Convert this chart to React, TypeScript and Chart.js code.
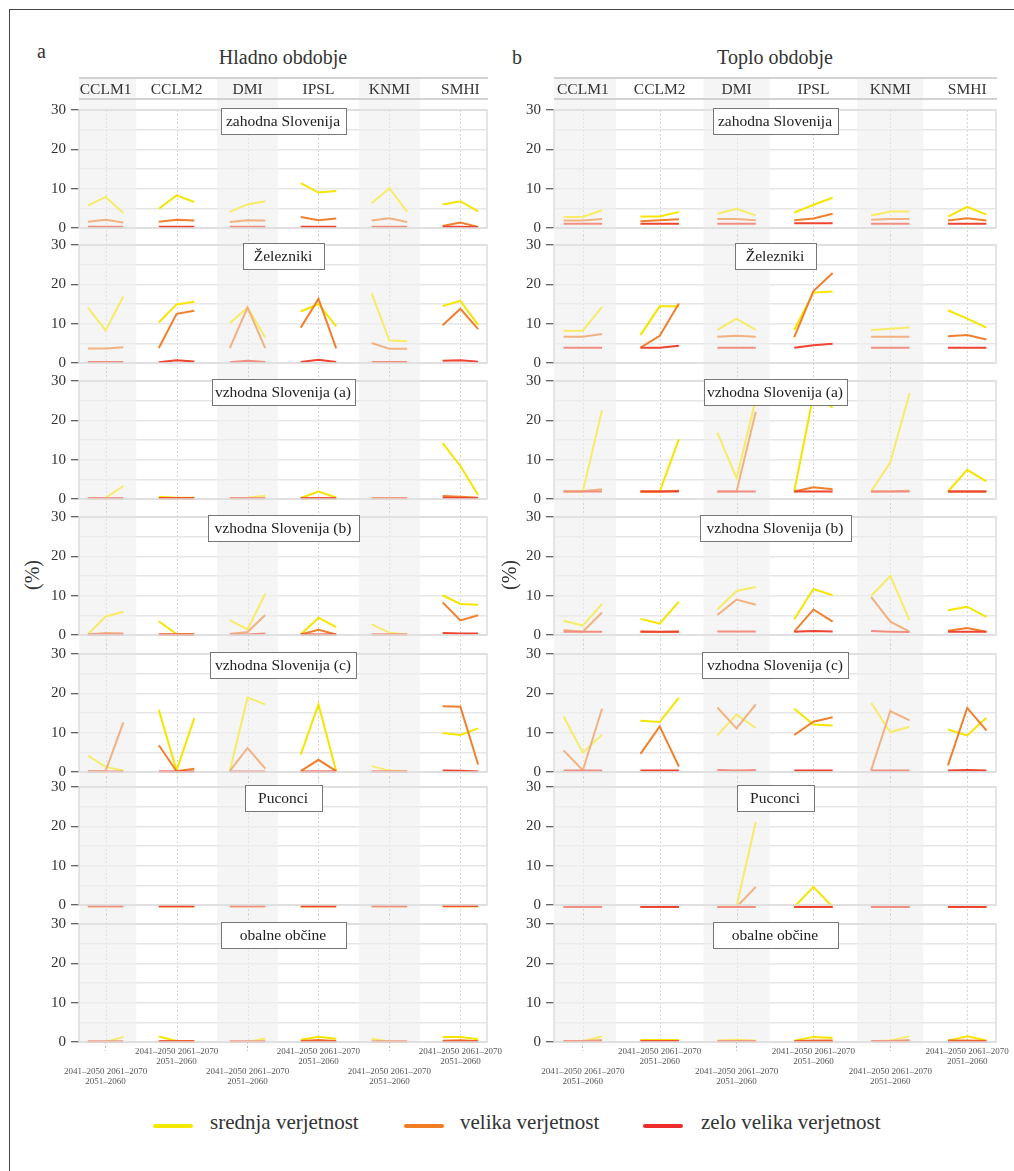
import React, { useEffect, useRef } from 'react';
import { Chart, registerables } from 'chart.js';

Chart.register(...registerables);

const FONT = '"Liberation Serif", "Times New Roman", serif';

// ---------- categories ----------
const models = ['CCLM1', 'CCLM2', 'DMI', 'IPSL', 'KNMI', 'SMHI'];
const periodLabels = ['2041–2050', '2051–2060', '2061–2070'];
const regionNames = [
  'zahodna Slovenija',
  'Železniki',
  'vzhodna Slovenija (a)',
  'vzhodna Slovenija (b)',
  'vzhodna Slovenija (c)',
  'Puconci',
  'obalne občine',
];
const seriesNames = ['srednja verjetnost', 'velika verjetnost', 'zelo velika verjetnost'];
const panelTitles = ['Hladno obdobje', 'Toplo obdobje'];
const panelLetters = ['a', 'b'];
const yAxisTitle = '(%)';

// ---------- values (%), per region: [srednja, velika, zelo velika], 6 models x 3 periods ----------
// Hladno obdobje
const hladnoZahodna = [
  [5.7, 7.9, 3.8, 4.9, 8.3, 6.6, 4.1, 6.0, 6.8, 11.4, 9.0, 9.4, 6.3, 10.1, 4.1, 6.0, 6.8, 4.2],
  [1.6, 2.1, 1.4, 1.6, 2.1, 1.9, 1.5, 2.0, 1.9, 2.8, 2.0, 2.4, 1.9, 2.5, 1.5, 0.5, 1.4, 0.25],
  [0.3, 0.3, 0.3, 0.3, 0.3, 0.3, 0.3, 0.3, 0.3, 0.3, 0.3, 0.3, 0.3, 0.3, 0.3, 0.3, 0.3, 0.2],
];
const hladnoZelezniki = [
  [14.1, 8.3, 16.9, 10.3, 14.9, 15.6, 10.1, 14.1, 6.5, 13.1, 15.0, 9.3, 17.7, 5.7, 5.5, 14.5, 15.8, 9.7],
  [3.7, 3.7, 4.0, 3.8, 12.5, 13.3, 3.8, 14.1, 3.8, 9.0, 16.3, 3.7, 5.1, 3.6, 3.6, 9.6, 13.8, 8.6],
  [0.25, 0.25, 0.25, 0.2, 0.7, 0.4, 0.2, 0.6, 0.25, 0.25, 0.85, 0.25, 0.25, 0.25, 0.25, 0.6, 0.7, 0.35],
];
const hladnoVzhodnaA = [
  [0.25, 0.3, 3.3, 0.6, 0.3, 0.3, 0.2, 0.3, 0.85, 0.25, 1.9, 0.4, 0.2, 0.2, 0.2, 14.2, 8.4, 1.0],
  [0.2, 0.2, 0.2, 0.2, 0.2, 0.2, 0.2, 0.2, 0.2, 0.2, 0.2, 0.2, 0.2, 0.2, 0.2, 0.75, 0.6, 0.3],
  [0.2, 0.2, 0.2, 0.2, 0.2, 0.2, 0.2, 0.2, 0.2, 0.2, 0.2, 0.2, 0.2, 0.2, 0.2, 0.3, 0.25, 0.2],
];
const hladnoVzhodnaB = [
  [0.15, 4.7, 5.9, 3.5, 0.25, 0.15, 3.8, 1.4, 10.5, 0.15, 4.4, 2.0, 2.7, 0.6, 0.15, 10.1, 7.9, 7.7],
  [0.15, 0.5, 0.4, 0.15, 0.15, 0.15, 0.25, 0.75, 5.1, 0.15, 1.3, 0.15, 0.15, 0.15, 0.15, 8.3, 3.7, 5.0],
  [0.15, 0.15, 0.15, 0.15, 0.15, 0.15, 0.15, 0.15, 0.35, 0.15, 0.15, 0.15, 0.15, 0.15, 0.15, 0.5, 0.4, 0.4],
];
const hladnoVzhodnaC = [
  [4.2, 1.3, 0.3, 15.8, 0.4, 13.7, 0.2, 18.9, 17.2, 4.4, 17.2, 0.2, 1.5, 0.35, 0.2, 9.9, 9.4, 11.1],
  [0.2, 0.2, 12.6, 6.8, 0.2, 0.8, 0.2, 6.1, 0.85, 0.2, 3.1, 0.2, 0.15, 0.15, 0.15, 16.7, 16.6, 1.9],
  [0.15, 0.15, 0.15, 0.15, 0.15, 0.15, 0.15, 0.15, 0.15, 0.15, 0.15, 0.15, 0.15, 0.15, 0.15, 0.35, 0.3, 0.1],
];
const hladnoPuconci = [
  [-0.3, -0.3, -0.3, -0.3, -0.3, -0.3, -0.3, -0.3, -0.3, -0.3, -0.3, -0.3, -0.3, -0.3, -0.3, -0.3, -0.3, -0.3],
  [-0.3, -0.3, -0.3, -0.3, -0.3, -0.3, -0.3, -0.3, -0.3, -0.3, -0.3, -0.3, -0.3, -0.3, -0.3, -0.3, -0.3, -0.3],
  [-0.3, -0.3, -0.3, -0.3, -0.3, -0.3, -0.3, -0.3, -0.3, -0.3, -0.3, -0.3, -0.3, -0.3, -0.3, -0.2, -0.2, -0.2],
];
const hladnoObalne = [
  [0.0, 0.0, 1.3, 1.4, 0.25, 0.1, 0.0, 0.0, 0.9, 0.6, 1.35, 0.85, 0.85, 0.1, 0.0, 1.25, 1.25, 0.7],
  [0.1, 0.1, 0.1, 0.1, 0.1, 0.1, 0.1, 0.1, 0.1, 0.25, 0.5, 0.25, 0.1, 0.1, 0.1, 0.3, 0.45, 0.2],
  [0.1, 0.1, 0.1, 0.2, 0.2, 0.2, 0.1, 0.1, 0.1, 0.1, 0.1, 0.1, 0.1, 0.1, 0.1, 0.1, 0.1, 0.1],
];

// Toplo obdobje
const toploZahodna = [
  [2.8, 2.8, 4.5, 2.9, 2.9, 4.1, 3.6, 4.9, 3.2, 3.9, 5.9, 7.7, 3.2, 4.2, 4.2, 2.9, 5.4, 3.4],
  [1.9, 1.9, 2.3, 1.7, 2.0, 2.2, 2.3, 2.3, 2.0, 2.0, 2.4, 3.6, 2.1, 2.3, 2.3, 1.9, 2.5, 1.9],
  [1.1, 1.1, 1.1, 1.1, 1.1, 1.1, 1.1, 1.1, 1.1, 1.2, 1.2, 1.2, 1.1, 1.1, 1.1, 1.1, 1.1, 1.1],
];
const toploZelezniki = [
  [8.2, 8.2, 14.3, 7.1, 14.4, 14.4, 8.4, 11.3, 8.4, 8.4, 17.9, 18.2, 8.4, 8.7, 9.0, 13.4, 11.3, 9.0],
  [6.7, 6.7, 7.4, 3.9, 6.9, 15.1, 6.7, 6.9, 6.7, 6.6, 18.3, 22.9, 6.7, 6.7, 6.7, 6.8, 7.1, 6.0],
  [3.9, 3.9, 3.9, 3.9, 3.9, 4.4, 3.9, 3.9, 3.9, 3.9, 4.5, 4.9, 3.9, 3.9, 3.9, 3.9, 3.9, 3.9],
];
const toploVzhodnaA = [
  [1.9, 1.9, 22.6, 1.9, 1.9, 15.2, 16.9, 5.3, 25.4, 1.9, 26.5, 23.2, 1.9, 9.3, 26.9, 1.9, 7.4, 4.5],
  [1.9, 2.0, 2.5, 1.9, 1.9, 2.1, 1.9, 1.9, 22.2, 1.9, 3.0, 2.5, 1.9, 1.9, 2.1, 1.9, 1.9, 1.9],
  [1.9, 1.9, 1.9, 1.9, 1.9, 1.9, 1.9, 1.9, 1.9, 1.9, 1.9, 1.9, 1.9, 1.9, 1.9, 1.9, 1.9, 1.9],
];
const toploVzhodnaB = [
  [3.6, 2.4, 7.9, 4.1, 2.9, 8.5, 6.5, 11.2, 12.2, 4.0, 11.7, 10.1, 9.9, 15.0, 3.8, 6.3, 7.2, 4.6],
  [1.3, 0.85, 5.7, 0.9, 0.75, 0.9, 5.1, 9.0, 7.7, 0.85, 6.5, 3.4, 9.7, 3.4, 0.85, 1.1, 1.8, 0.85],
  [0.85, 0.85, 0.85, 0.85, 0.85, 0.85, 0.9, 0.9, 0.9, 0.85, 1.0, 0.9, 1.0, 0.85, 0.75, 0.85, 0.85, 0.85],
];
const toploVzhodnaC = [
  [14.1, 4.9, 9.5, 13.0, 12.7, 18.9, 9.3, 14.6, 11.2, 16.1, 12.1, 11.8, 17.6, 10.1, 11.5, 10.8, 9.3, 13.8],
  [5.5, 0.4, 16.1, 4.6, 11.6, 1.4, 16.4, 11.1, 17.2, 9.4, 12.8, 13.9, 0.4, 15.5, 13.1, 1.7, 16.3, 10.6],
  [0.35, 0.35, 0.35, 0.35, 0.35, 0.35, 0.5, 0.35, 0.5, 0.35, 0.35, 0.35, 0.35, 0.35, 0.35, 0.35, 0.5, 0.35],
];
const toploPuconci = [
  [-0.5, -0.5, -0.5, -0.5, -0.5, -0.5, -0.3, -0.3, 21.1, -0.5, 4.6, -0.5, -0.5, -0.5, -0.5, -0.5, -0.5, -0.5],
  [-0.5, -0.5, -0.5, -0.5, -0.5, -0.5, -0.5, -0.5, 4.6, -0.5, -0.5, -0.5, -0.5, -0.5, -0.5, -0.5, -0.5, -0.5],
  [-0.5, -0.5, -0.5, -0.5, -0.5, -0.5, -0.5, -0.5, -0.5, -0.5, -0.5, -0.5, -0.5, -0.5, -0.5, -0.5, -0.5, -0.5],
];
const toploObalne = [
  [0.2, 0.2, 1.4, 0.5, 0.5, 0.5, 0.35, 0.6, 0.35, 0.35, 1.3, 1.0, 0.2, 0.35, 1.5, 0.35, 1.45, 0.4],
  [0.2, 0.25, 0.5, 0.25, 0.25, 0.25, 0.2, 0.2, 0.2, 0.25, 0.4, 0.35, 0.2, 0.25, 0.5, 0.35, 0.4, 0.25],
  [0.2, 0.2, 0.2, 0.2, 0.2, 0.2, 0.2, 0.2, 0.2, 0.15, 0.15, 0.15, 0.2, 0.2, 0.2, 0.15, 0.15, 0.15],
];

const hladnoRows = [hladnoZahodna, hladnoZelezniki, hladnoVzhodnaA, hladnoVzhodnaB, hladnoVzhodnaC, hladnoPuconci, hladnoObalne];
const toploRows = [toploZahodna, toploZelezniki, toploVzhodnaA, toploVzhodnaB, toploVzhodnaC, toploPuconci, toploObalne];

// ---------- styles / layout ----------
const SERIES_COLORS = ['#f6e500', '#f0802e', '#ee4430'];
const LEGEND_COLORS = ['#f4e900', '#f07d26', '#ee2c2c'];
const BAND_COLOR = '#f5f5f5';
const ROW_TOPS = [110, 245, 381, 517, 654, 787, 924];
const PLOT_H = 118;
const HEADER_TOP = 78;
const HEADER_BOTTOM = 99;
const X_LABEL_H = 52;
const LABEL_BOX_W = [125, 81, 143, 151, 146, 77, 125];
const X_MIN = 0.5;
const X_MAX = 23.5;
const BAND_INSET = 0.28;
const BAND_MODELS = [0, 2, 4];

type Panel = { left: number; width: number; axisW: number; padRight: number; rows: number[][][]; titleX: number; letterX: number; letterTop: number; pctX: number };
const PANELS: Panel[] = [
  { left: 0, width: 508, axisW: 79, padRight: 21, rows: hladnoRows, titleX: 283, letterX: 37, letterTop: 41, pctX: 32 },
  { left: 500, width: 514, axisW: 54, padRight: 18, rows: toploRows, titleX: 775, letterX: 512, letterTop: 47, pctX: 509 },
];

function buildPoints(values: number[]) {
  const pts: { x: number; y: number | null }[] = [];
  models.forEach((_, m) => {
    periodLabels.forEach((__, p) => {
      pts.push({ x: 4 * m + 1 + p, y: values[3 * m + p] });
    });
    pts.push({ x: 4 * m + 3.5, y: null });
  });
  return pts;
}

function makeDecor(first: boolean, last: boolean, headerTopPx: number, headerBottomPx: number, boxW: number, label: string) {
  return {
    id: 'decor',
    beforeDraw(chart: any) {
      const { ctx, chartArea: ca } = chart;
      const x = chart.scales.x;
      const top = first ? headerTopPx : 0;
      const bottom = last ? ca.bottom : chart.height;
      ctx.save();
      ctx.fillStyle = BAND_COLOR;
      BAND_MODELS.forEach((m) => {
        const l = Math.max(ca.left, x.getPixelForValue(4 * m + BAND_INSET));
        const r = Math.min(ca.right, x.getPixelForValue(4 * m + 4 - BAND_INSET));
        ctx.fillRect(l, top, r - l, bottom - top);
      });
      ctx.strokeStyle = '#d4d4d4';
      ctx.lineWidth = 1;
      ctx.setLineDash([2, 2]);
      const dTop = first ? ca.top : 0;
      models.forEach((_, m) => {
        const cx = Math.round(x.getPixelForValue(4 * m + 2)) + 0.5;
        ctx.beginPath();
        ctx.moveTo(cx, dTop);
        ctx.lineTo(cx, bottom);
        ctx.stroke();
      });
      ctx.restore();
    },
    afterDatasetsDraw(chart: any) {
      const { ctx, chartArea: ca } = chart;
      const x = chart.scales.x;
      ctx.save();
      ctx.fillStyle = 'rgba(245,245,245,0.42)';
      BAND_MODELS.forEach((m) => {
        const l = Math.max(ca.left, x.getPixelForValue(4 * m + BAND_INSET));
        const r = Math.min(ca.right, x.getPixelForValue(4 * m + 4 - BAND_INSET));
        ctx.fillRect(l, ca.top - 4, r - l, ca.bottom - ca.top + 8);
      });
      ctx.restore();
    },
    afterDraw(chart: any) {
      const { ctx, chartArea: ca } = chart;
      const x = chart.scales.x;
      ctx.save();
      ctx.strokeStyle = '#dcdcdc';
      ctx.lineWidth = 1.5;
      ctx.strokeRect(ca.left, ca.top, ca.right - ca.left, ca.bottom - ca.top);
      if (first) {
        ctx.strokeStyle = '#d2d2d2';
        ctx.lineWidth = 2;
        [headerTopPx, headerBottomPx].forEach((yy) => {
          ctx.beginPath();
          ctx.moveTo(ca.left, yy);
          ctx.lineTo(ca.right + 1, yy);
          ctx.stroke();
        });
        ctx.fillStyle = '#333';
        ctx.font = `15.5px ${FONT}`;
        ctx.textAlign = 'center';
        ctx.textBaseline = 'middle';
        models.forEach((name, m) => {
          ctx.fillText(name, x.getPixelForValue(4 * m + 2), (headerTopPx + headerBottomPx) / 2 + 1);
        });
      }
      const cx = (ca.left + ca.right) / 2;
      const bx = Math.round(cx - boxW / 2) + 0.5;
      const by = Math.round(ca.top - 2) + 0.5;
      ctx.fillStyle = '#fff';
      ctx.fillRect(bx, by, boxW, 26);
      ctx.strokeStyle = '#777';
      ctx.lineWidth = 1;
      ctx.strokeRect(bx, by, boxW, 26);
      ctx.fillStyle = '#222';
      ctx.font = `15.5px ${FONT}`;
      ctx.textAlign = 'center';
      ctx.textBaseline = 'middle';
      ctx.fillText(label, cx, by + 13.5);
      ctx.restore();
    },
  };
}

function RowChart({ panel, row }: { panel: Panel; row: number }) {
  const ref = useRef<HTMLCanvasElement | null>(null);
  const first = row === 0;
  const last = row === ROW_TOPS.length - 1;
  const canvasTop = first ? HEADER_TOP - 8 : ROW_TOPS[row] - 10;
  const padTop = ROW_TOPS[row] - canvasTop;
  const chartBottom = ROW_TOPS[row] + PLOT_H;
  const canvasBottom = last ? chartBottom + X_LABEL_H : ROW_TOPS[row + 1] - 10;
  const height = canvasBottom - canvasTop;
  const padBottom = last ? 0 : canvasBottom - chartBottom;

  useEffect(() => {
    if (!ref.current) return;
    const values = panel.rows[row];
    const datasets = seriesNames.map((name, s) => ({
      label: name,
      data: buildPoints(values[s]),
      borderColor: SERIES_COLORS[s],
      backgroundColor: SERIES_COLORS[s],
      borderWidth: 2,
      pointRadius: 0,
      tension: 0,
      spanGaps: false,
      clip: false as any,
      order: 3 - s,
    }));
    const chart = new Chart(ref.current, {
      type: 'line',
      data: { datasets },
      plugins: [makeDecor(first, last, HEADER_TOP - canvasTop, HEADER_BOTTOM - canvasTop, LABEL_BOX_W[row], regionNames[row])],
      options: {
        responsive: false,
        maintainAspectRatio: false,
        animation: false,
        devicePixelRatio: 1,
        events: [],
        layout: { padding: { top: padTop, bottom: padBottom, left: 0, right: panel.padRight } },
        plugins: { legend: { display: false }, tooltip: { enabled: false } },
        scales: {
          x: {
            type: 'linear',
            min: X_MIN,
            max: X_MAX,
            display: last,
            afterBuildTicks: (s: any) => {
              s.ticks = models.map((_, m) => ({ value: 4 * m + 2 }));
            },
            afterFit: (s: any) => {
              s.height = last ? X_LABEL_H : 0;
              s.paddingLeft = 0;
              s.paddingRight = 0;
            },
            grid: {
              drawOnChartArea: false,
              drawTicks: true,
              tickLength: 9,
              tickWidth: 1,
              tickBorderDash: [2, 2],
              tickColor: (c: any) => (c.index % 2 === 0 ? '#b5b5b5' : 'rgba(0,0,0,0)'),
            },
            border: { display: false },
            ticks: {
              autoSkip: false,
              maxRotation: 0,
              minRotation: 0,
              padding: -4,
              color: '#555',
              font: { family: FONT, size: 9, lineHeight: 1.1 },
              callback: (_v: any, i: number) => {
                const line1 = `${periodLabels[0]} ${periodLabels[2]}`;
                const line2 = periodLabels[1];
                return i % 2 === 0 ? ['', '', line1, line2] : [line1, line2];
              },
            },
          },
          y: {
            type: 'linear',
            min: 0,
            max: 30,
            afterFit: (s: any) => {
              s.width = panel.axisW;
              s.paddingTop = 0;
              s.paddingBottom = 0;
            },
            grid: {
              color: '#e6e6e6',
              lineWidth: 1.5,
              tickLength: 8,
              tickWidth: 1,
              tickColor: (c: any) => (c.tick && c.tick.value % 10 === 0 ? '#333' : 'rgba(0,0,0,0)'),
            },
            border: { display: false },
            ticks: {
              stepSize: 5,
              padding: 5,
              color: '#333',
              font: { family: FONT, size: 15, lineHeight: 1 },
              callback: (v: any) => (v % 10 === 0 ? String(v) : ''),
            },
          },
        },
      } as any,
    });
    return () => chart.destroy();
  }, []);

  return (
    <canvas
      ref={ref}
      width={panel.width}
      height={height}
      style={{ position: 'absolute', left: panel.left, top: canvasTop, width: panel.width, height }}
    />
  );
}

export default function App() {
  const text: React.CSSProperties = { position: 'absolute', fontFamily: FONT, color: '#333', whiteSpace: 'nowrap' };
  const legendLines = [153, 404, 643];
  const legendTexts = [210, 460, 701];
  return (
    <div style={{ position: 'absolute', left: 0, top: 0, width: 1014, height: 1171, overflow: 'hidden', background: '#fff' }}>
      <div style={{ position: 'absolute', left: 9, top: 9, width: 1005, height: 1162, borderLeft: '1px solid #444', borderTop: '1px solid #444' }} />
      {PANELS.map((panel, pi) => (
        <React.Fragment key={pi}>
          <div style={{ ...text, left: panel.letterX, top: panel.letterTop, fontSize: 20, lineHeight: '20px' }}>{panelLetters[pi]}</div>
          <div style={{ ...text, left: panel.titleX - 150, top: 47, width: 300, textAlign: 'center', fontSize: 20, lineHeight: '20px' }}>
            {panelTitles[pi]}
          </div>
          <div
            style={{
              ...text,
              left: panel.pctX - 50,
              top: 565,
              width: 100,
              height: 20,
              textAlign: 'center',
              fontSize: 20,
              lineHeight: '20px',
              transform: 'rotate(-90deg)',
            }}
          >
            {yAxisTitle}
          </div>
          {ROW_TOPS.map((_, ri) => (
            <RowChart key={ri} panel={panel} row={ri} />
          ))}
        </React.Fragment>
      ))}
      {seriesNames.map((name, s) => (
        <React.Fragment key={name}>
          <div style={{ position: 'absolute', left: legendLines[s], top: 1124, width: 40, height: 4, borderRadius: 2, background: LEGEND_COLORS[s] }} />
          <div style={{ ...text, left: legendTexts[s], top: 1112, fontSize: 21, lineHeight: '21px' }}>{name}</div>
        </React.Fragment>
      ))}
    </div>
  );
}
